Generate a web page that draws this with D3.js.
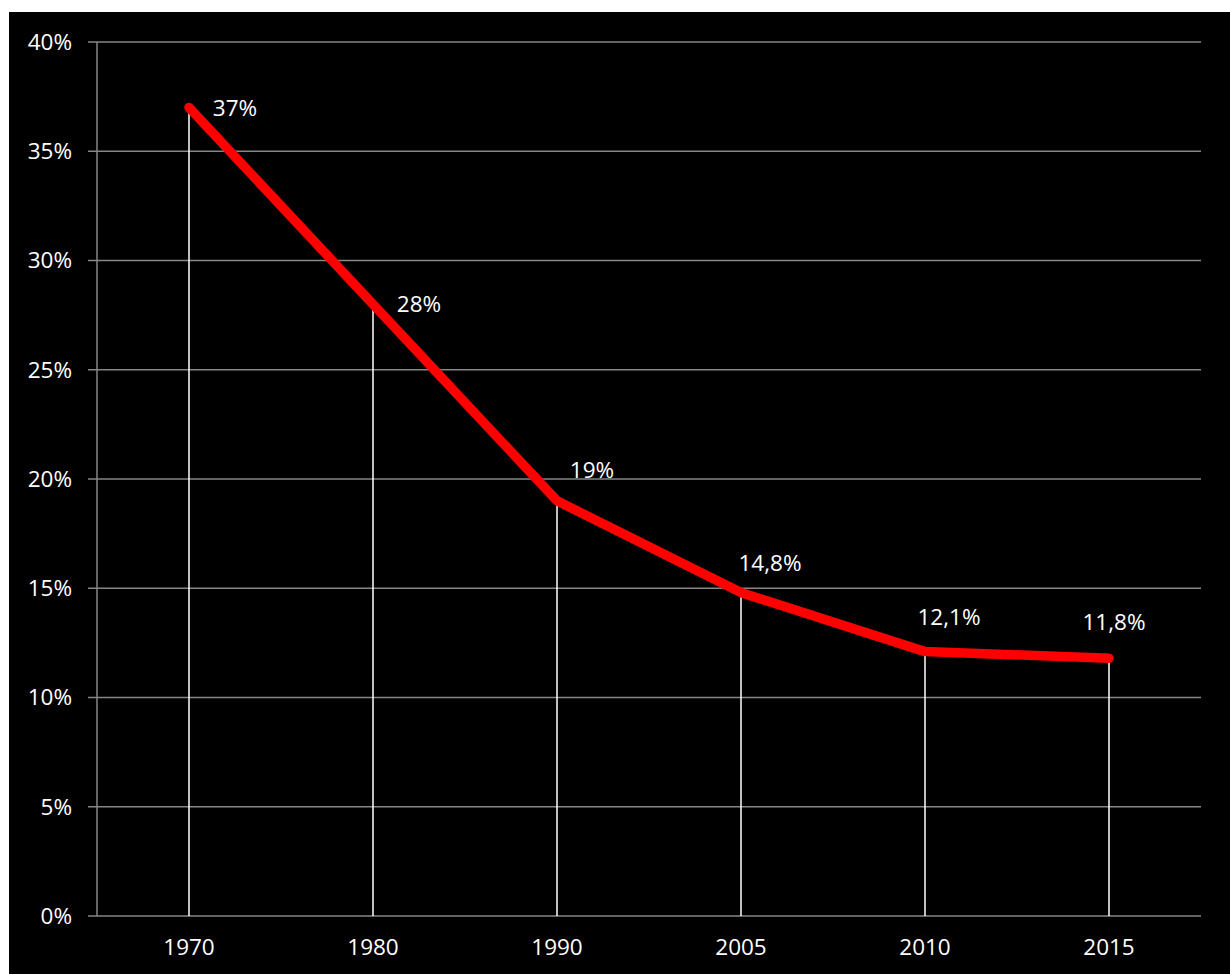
<!DOCTYPE html>
<html><head><meta charset="utf-8">
<script src="https://cdn.jsdelivr.net/npm/d3@7"></script>
<style>body{margin:0;background:#fff;}svg{display:block;}</style>
</head><body>
<svg id="c" width="1230" height="974"></svg>
<script>
const categories = ["1970","1980","1990","2005","2010","2015"];
const values = [37, 28, 19, 14.8, 12.1, 11.8];
const valueLabels = ["37%","28%","19%","14,8%","12,1%","11,8%"];
const yTicks = [0,5,10,15,20,25,30,35,40];

const svg = d3.select("#c");
svg.append("rect").attr("x",9).attr("y",12).attr("width",1221).attr("height",962).attr("fill","#000");

const m = {l:97, r:1201, t:42, b:916};
const x = d3.scaleBand().domain(categories).range([m.l, m.r]);
const y = d3.scaleLinear().domain([0,40]).range([m.b, m.t]);
const font = "'Open Sans', sans-serif";
const fs = 22.5;

// gridlines
svg.append("g").selectAll("line").data(yTicks).join("line")
  .attr("x1", m.l-9).attr("x2", m.r).attr("y1", d=>y(d)).attr("y2", d=>y(d))
  .attr("stroke","#868686").attr("stroke-width",1.5);
svg.append("line").attr("x1",m.l).attr("x2",m.l).attr("y1",m.t).attr("y2",m.b)
  .attr("stroke","#868686").attr("stroke-width",1.5);

// y labels
svg.append("g").selectAll("text").data(yTicks).join("text")
  .attr("x", 72).attr("y", d=>y(d)).attr("dy","0.35em").attr("text-anchor","end")
  .attr("fill","#fff").attr("font-family",font).attr("font-size",fs).text(d=>d+"%");

// x labels
svg.append("g").selectAll("text").data(categories).join("text")
  .attr("x", d=>x(d)+x.bandwidth()/2).attr("y", 947).attr("dy","0.35em").attr("text-anchor","middle")
  .attr("fill","#fff").attr("font-family",font).attr("font-size",fs).text(d=>d);

const cx = (d,i)=>x(categories[i])+x.bandwidth()/2;
// drop lines
svg.append("g").selectAll("line").data(values).join("line")
  .attr("x1",cx).attr("x2",cx).attr("y1",d=>y(d)).attr("y2",m.b)
  .attr("stroke","#fff").attr("stroke-width",1.5);

// red line
const line = d3.line().x((d,i)=>cx(d,i)).y(d=>y(d));
svg.append("path").datum(values).attr("d",line).attr("fill","none")
  .attr("stroke","#ff0000").attr("stroke-width",9.5).attr("stroke-linecap","round").attr("stroke-linejoin","round");

// value labels (placement offsets relative to point: dx of label centre, dy)
const place = [[46,1],[46,0],[35,-31],[29,-29],[24,-34],[5,-36]];
svg.append("g").selectAll("text").data(values).join("text")
  .attr("x",(d,i)=>cx(d,i)+place[i][0]).attr("y",(d,i)=>y(d)+place[i][1]).attr("dy","0.35em")
  .attr("text-anchor","middle")
  .attr("fill","#fff").attr("font-family",font).attr("font-size",fs).text((d,i)=>valueLabels[i]);
</script>
</body></html>
